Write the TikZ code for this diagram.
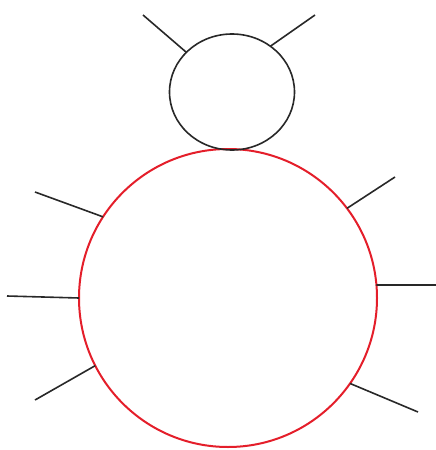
\documentclass[tikz,border=0pt]{standalone}
\usetikzlibrary{shapes.geometric}
\definecolor{bodyred}{RGB}{228,30,42}
\definecolor{inkgray}{RGB}{40,40,40}
\begin{document}
\begin{tikzpicture}[x=1pt,y=-1pt,
  limb/.style={draw=inkgray,line width=1.6pt},
  bodycircle/.style={circle,draw=bodyred,line width=2pt,inner sep=0pt,minimum size=298pt,outer sep=0pt},
  headoval/.style={ellipse,draw=inkgray,line width=1.6pt,inner sep=0pt,minimum width=125pt,minimum height=116pt,outer sep=0pt}]
\useasboundingbox (0,0) rectangle (436,450);
\node[bodycircle] (body) at (228,298) {};
\node[headoval] (head) at (232,92) {};
% head limbs
\coordinate (h1) at (143,15);
\coordinate (h2) at (315,15);
\draw[limb] (h1) -- (head.139);
\draw[limb] (h2) -- (head.50);
% body limbs
\coordinate (l1) at (35,192);
\coordinate (l2) at (7,296);
\coordinate (l3) at (35,400);
\coordinate (r1) at (395,177);
\coordinate (r2) at (436,285);
\coordinate (r3) at (418,412);
\draw[limb] (l1) -- (body.147);
\draw[limb] (l2) -- (body.180);
\draw[limb] (l3) -- (body.207);
\draw[limb] (r1) -- (body.37);
\draw[limb] (r2) -- (body.5);
\draw[limb] (r3) -- (body.-35);
\end{tikzpicture}
\end{document}
